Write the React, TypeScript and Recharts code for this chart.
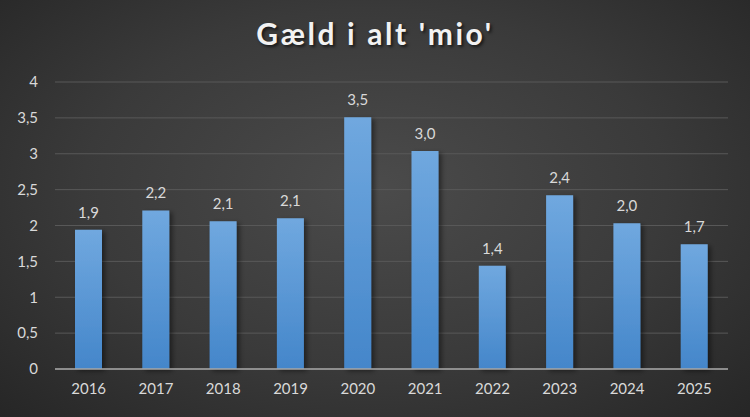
import { BarChart, Bar, XAxis, YAxis, CartesianGrid, LabelList } from "recharts";

const years = ["2016", "2017", "2018", "2019", "2020", "2021", "2022", "2023", "2024", "2025"];
const debt = [1.94, 2.21, 2.06, 2.1, 3.51, 3.04, 1.44, 2.42, 2.03, 1.74];
const yTicks = [0, 0.5, 1, 1.5, 2, 2.5, 3, 3.5, 4];

const data = years.map((year, i) => ({ year, debt: debt[i] }));

const comma = (v: number) => String(v).replace(".", ",");
const font = "Lato, 'Open Sans', sans-serif";

const App = () => {
  return (
    <div
      style={{
        position: "relative",
        width: 750,
        height: 417,
        background: "radial-gradient(ellipse at 50% 45%, #4b4b4b 0%, #3a3a3a 55%, #262626 100%)",
        fontFamily: font,
      }}
    >
      <style>{`body{margin:0}`}</style>
      <div
        style={{
          position: "absolute",
          top: 15,
          left: 0,
          width: 750,
          textAlign: "center",
          color: "#f2f2f2",
          fontSize: 30,
          fontWeight: 700,
          letterSpacing: 2.6,
          textShadow: "2px 2px 3px rgba(0,0,0,0.6)",
        }}
      >
        Gæld i alt 'mio'
      </div>
      <BarChart
        width={750}
        height={417}
        data={data}
        margin={{ top: 82, right: 22, left: 0, bottom: 0 }}
        barSize={27}
      >
        <defs>
          <linearGradient id="barFill" x1="0" y1="0" x2="0" y2="1">
            <stop offset="0%" stopColor="#70a8df" />
            <stop offset="100%" stopColor="#4486ca" />
          </linearGradient>
          <filter id="barShadow" x="-50%" y="-20%" width="200%" height="140%">
            <feDropShadow dx="3" dy="2" stdDeviation="2.5" floodColor="#000" floodOpacity="0.45" />
          </filter>
        </defs>
        <CartesianGrid vertical={false} stroke="#585858" strokeWidth={1} />
        <XAxis
          dataKey="year"
          height={48}
          tickLine={false}
          tickSize={0}
          tickMargin={14}
          axisLine={{ stroke: "#a6a6a6", strokeWidth: 1.5 }}
          tick={{ fill: "#d9d9d9", fontSize: 15, fontFamily: font }}
        />
        <YAxis
          width={55}
          domain={[0, 4]}
          ticks={yTicks}
          tickFormatter={comma}
          axisLine={false}
          tickLine={false}
          tickSize={0}
          tickMargin={17}
          tick={{ fill: "#d9d9d9", fontSize: 15, fontFamily: font }}
        />
        <Bar dataKey="debt" fill="url(#barFill)" filter="url(#barShadow)" isAnimationActive={false}>
          <LabelList
            dataKey="debt"
            position="top"
            offset={12}
            formatter={(v: any) => Number(v).toFixed(1).replace(".", ",")}
            style={{ fill: "#d9d9d9", fontSize: 15, fontFamily: font }}
          />
        </Bar>
      </BarChart>
    </div>
  );
};

export default App;
